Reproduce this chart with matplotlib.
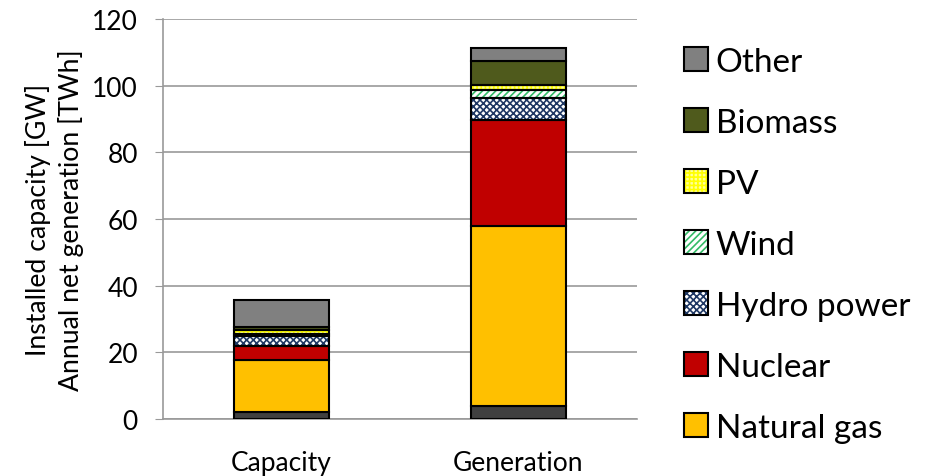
import matplotlib
matplotlib.use("Agg")
import matplotlib.pyplot as plt
from matplotlib.patches import Patch
from matplotlib.legend_handler import HandlerTuple

plt.rcParams['font.family'] = ['Lato', 'DejaVu Sans']
plt.rcParams['hatch.linewidth'] = 1.2

categories = ["Capacity", "Generation"]
coal = [2.0, 3.8]
natural_gas = [15.7, 54.1]
nuclear = [4.3, 31.9]
hydro = [2.8, 6.5]
wind = [0.8, 2.4]
pv = [1.0, 1.5]
biomass = [1.1, 7.3]
other = [8.0, 3.8]

series = [
    ("_Coal", coal, "#404040", None, None),
    ("Natural gas", natural_gas, "#ffc000", None, None),
    ("Nuclear", nuclear, "#c00000", None, None),
    ("Hydro power", hydro, "white", "xxxxx", "#1f3864"),
    ("Wind", wind, "white", "/////", "#33bb66"),
    ("PV", pv, "#ffff99", "++++", "#ffff00"),
    ("Biomass", biomass, "#4f5a1c", None, None),
    ("Other", other, "#808080", None, None),
]

fig = plt.figure(figsize=(9.31, 4.77), dpi=100)
ax = fig.add_axes([0.175, 0.1195, 0.509, 0.8385])

x = list(range(len(categories)))
bottom = [0.0] * len(categories)
handles = []
labels = []
for name, vals, fc, hatch, hc in series:
    if hatch:
        ax.bar(x, vals, 0.4, bottom=bottom, facecolor=fc, edgecolor=hc,
               hatch=hatch, linewidth=0, zorder=3)
        ax.bar(x, vals, 0.4, bottom=bottom, fill=False, edgecolor="black",
               linewidth=1.5, zorder=4)
        h = (Patch(facecolor=fc, edgecolor=hc, hatch=hatch, linewidth=0),
             Patch(fill=False, edgecolor="black", linewidth=1.5))
    else:
        ax.bar(x, vals, 0.4, bottom=bottom, color=fc, edgecolor="black",
               linewidth=1.5, zorder=3)
        h = Patch(facecolor=fc, edgecolor="black", linewidth=1.5)
    if not name.startswith("_"):
        handles.append(h)
        labels.append(name)
    bottom = [b + v for b, v in zip(bottom, vals)]

ax.set_xlim(-0.5, 1.5)
ax.set_ylim(0, 120)
ax.set_yticks(range(0, 121, 20))
ax.set_xticks(x)
ax.set_xticklabels(categories)
ax.tick_params(axis='y', length=6, color="#999999", labelsize=19, pad=12)
ax.tick_params(axis='x', length=0, labelsize=19, pad=22)
ax.yaxis.grid(True, color="#999999", linewidth=1.2, zorder=0)
ax.set_axisbelow(True)
for s in ["top", "right"]:
    ax.spines[s].set_visible(False)
for s in ["left", "bottom"]:
    ax.spines[s].set_color("#999999")
    ax.spines[s].set_linewidth(1.2)
ax.set_ylabel("Installed capacity [GW]\nAnnual net generation [TWh]", fontsize=19.2,
              labelpad=6, linespacing=1.3)

leg = fig.legend(handles[::-1], labels[::-1], loc="upper left",
                 bbox_to_anchor=(0.735, 0.90), frameon=False, fontsize=24,
                 handler_map={tuple: HandlerTuple(ndivide=1, pad=0)},
                 handlelength=0.72, handleheight=0.72, handletextpad=0.22,
                 labelspacing=0.93, borderaxespad=0.0, borderpad=0.0)

fig.savefig("out.png", dpi=100)
